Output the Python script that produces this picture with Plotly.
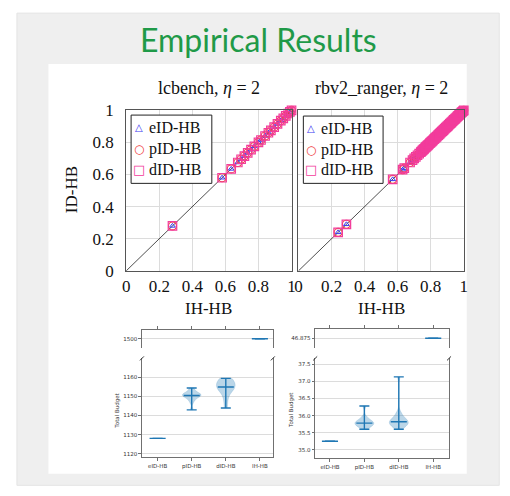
import plotly.graph_objects as go
import numpy as np

W, H = 510, 496
OFF = 8  # page body margin of the html page
def px(x):
    return (x - OFF) / W
def py(y):
    return 1 - (y - OFF) / H

# ---------------- data ----------------
# scatter: IH-HB (x) vs ID-HB (y)
lc_ih_hb = [0.28, 0.58, 0.635, 0.675, 0.695, 0.715, 0.735, 0.755, 0.775, 0.80, 0.815,
            0.84, 0.86, 0.875, 0.895, 0.915, 0.935, 0.95, 0.965, 0.98, 0.99, 1.0]
lc_id_hb = [0.28, 0.58, 0.635, 0.675, 0.695, 0.715, 0.735, 0.755, 0.775, 0.80, 0.815,
            0.84, 0.86, 0.875, 0.895, 0.915, 0.935, 0.95, 0.965, 0.98, 0.99, 1.0]
rb_ih_hb = [0.24, 0.29, 0.57, 0.63, 0.64, 0.675, 0.69, 0.70, 0.71, 0.72, 0.73, 0.74,
            0.745, 0.75, 0.755, 0.76, 0.765, 0.77, 0.775, 0.78, 0.785, 0.79, 0.795,
            0.80, 0.805, 0.81, 0.815, 0.82, 0.825, 0.83, 0.835, 0.84, 0.845, 0.85,
            0.855, 0.86, 0.865, 0.87, 0.875, 0.88, 0.885, 0.89, 0.895, 0.90, 0.905,
            0.91, 0.915, 0.92, 0.925, 0.93, 0.935, 0.94, 0.945, 0.95, 0.955, 0.96,
            0.965, 0.97, 0.975, 0.98, 0.985, 0.99, 0.995, 1.0, 1.005]
rb_id_hb = [0.24, 0.29, 0.57, 0.63, 0.64, 0.675, 0.69, 0.70, 0.71, 0.72, 0.73, 0.74,
            0.745, 0.75, 0.755, 0.76, 0.765, 0.77, 0.775, 0.78, 0.785, 0.79, 0.795,
            0.80, 0.805, 0.81, 0.815, 0.82, 0.825, 0.83, 0.835, 0.84, 0.845, 0.85,
            0.855, 0.86, 0.865, 0.87, 0.875, 0.88, 0.885, 0.89, 0.895, 0.90, 0.905,
            0.91, 0.915, 0.92, 0.925, 0.93, 0.935, 0.94, 0.945, 0.95, 0.955, 0.96,
            0.965, 0.97, 0.975, 0.98, 0.985, 0.99, 0.995, 1.0, 1.005]
diag = [0, 1]
scatter_ticks = [0, 0.2, 0.4, 0.6, 0.8, 1]
scatter_ticktext = ["0", "0.2", "0.4", "0.6", "0.8", "1"]

# violin: total budget samples
methods = ["eID-HB", "pID-HB", "dID-HB", "IH-HB"]
lc_eid = [1128.0]
lc_pid = [1143, 1147, 1148.5, 1149.5, 1150, 1150.5, 1150.5, 1151, 1151, 1151.5, 1152, 1153, 1154.5]
lc_did = [1144, 1148, 1151, 1153, 1154, 1154.5, 1155, 1155, 1156, 1157, 1158, 1158.5, 1159, 1159.5]
lc_ih = [1500.0]
rb_eid = [35.25]
rb_pid = [35.6, 35.65, 35.7, 35.72, 35.75, 35.77, 35.78, 35.8, 35.82, 35.85, 35.9, 35.95, 36.28]
rb_did = [35.6, 35.65, 35.7, 35.73, 35.76, 35.78, 35.8, 35.82, 35.84, 35.86, 35.9, 35.95, 36.0, 36.1, 37.13]
rb_ih = [46.875]

lc_low_ticks = [1120, 1130, 1140, 1150, 1160]
lc_high_ticks = [1500]
rb_low_ticks = [35.0, 35.5, 36.0, 36.5, 37.0, 37.5]
rb_high_ticks = [46.875]

# ---------------- styles ----------------
SERIF = "Liberation Serif"
SANS = "DejaVu Sans"
C_TRI = "#3a3af0"
C_CIR = "#f03c3c"
C_SQ = "#f23c9c"
C0 = "#1f77b4"
GRID = "#dcdcdc"
SPINE = "#707070"

fig = go.Figure()

# ---------------- scatter panels ----------------
for (xs, ys, xa, ya) in [(lc_ih_hb, lc_id_hb, "x", "y"), (rb_ih_hb, rb_id_hb, "x2", "y2")]:
    fig.add_trace(go.Scatter(x=diag, y=diag, mode="lines", line=dict(color="#222", width=0.8),
                             xaxis=xa, yaxis=ya, showlegend=False, hoverinfo="skip"))
    fig.add_trace(go.Scatter(x=xs, y=ys, mode="markers", name="eID-HB", xaxis=xa, yaxis=ya,
                             marker=dict(symbol="triangle-up-open", size=5, color=C_TRI, line=dict(width=1)),
                             cliponaxis=False, showlegend=False))
    fig.add_trace(go.Scatter(x=xs, y=ys, mode="markers", name="pID-HB", xaxis=xa, yaxis=ya,
                             marker=dict(symbol="circle-open", size=8, color=C_CIR, line=dict(width=1.1)),
                             cliponaxis=False, showlegend=False))
    fig.add_trace(go.Scatter(x=xs, y=ys, mode="markers", name="dID-HB", xaxis=xa, yaxis=ya,
                             marker=dict(symbol="square-open", size=8.5, color=C_SQ, line=dict(width=1.2)),
                             cliponaxis=False, showlegend=False))

# ---------------- violin panels ----------------
def add_violins(samples, xa_low, ya_low, xa_high, ya_high, low_range):
    for i, vals in enumerate(samples):
        pos = i + 1
        vals = np.asarray(vals, dtype=float)
        lo, hi = vals.min(), vals.max()
        med = float(np.median(vals))
        if low_range[0] <= med <= low_range[1]:
            xa, ya = xa_low, ya_low
        else:
            xa, ya = xa_high, ya_high
        if hi > lo:
            fig.add_trace(go.Violin(y=vals, x0=pos, width=0.55, spanmode="hard", points=False,
                                    fillcolor="rgba(31,119,180,0.3)",
                                    line=dict(color="rgba(31,119,180,0.3)", width=0.5),
                                    xaxis=xa, yaxis=ya, showlegend=False, hoverinfo="skip"))
        fig.add_trace(go.Scatter(x=[pos], y=[med], mode="markers", xaxis=xa, yaxis=ya,
                                 marker=dict(symbol="line-ew", size=11.5, line=dict(color=C0, width=1.4)),
                                 error_y=dict(type="data", symmetric=False, array=[hi - med],
                                              arrayminus=[med - lo], width=5, thickness=1.4, color=C0),
                                 showlegend=False, hoverinfo="skip"))

add_violins([lc_eid, lc_pid, lc_did, lc_ih], "x3", "y3", "x4", "y4", (1118, 1170))
add_violins([rb_eid, rb_pid, rb_did, rb_ih], "x5", "y5", "x6", "y6", (34.75, 37.67))

# ---------------- axes ----------------
sc_axis = dict(range=[0, 1], tickvals=scatter_ticks, ticktext=scatter_ticktext, showgrid=True,
               gridcolor=GRID, gridwidth=1, zeroline=False, showline=True, linecolor="#555",
               linewidth=1, mirror=True, ticks="", tickfont=dict(family=SERIF, size=17, color="#111"))
sc_ydom = [py(272), py(105)]
fig.update_layout(
    xaxis=dict(sc_axis, domain=[px(124), px(292)], anchor="y"),
    yaxis=dict(sc_axis, domain=sc_ydom, anchor="x", ticklabelstandoff=8),
    xaxis2=dict(sc_axis, domain=[px(299), px(467)], anchor="y2"),
    yaxis2=dict(sc_axis, domain=sc_ydom, anchor="x2", showticklabels=False),
)

vfont = dict(family=SANS, size=5.5, color="#333")
def vx(dom, rng, anchor, top=False):
    d = dict(domain=dom, range=rng, type="linear", tickvals=[1, 2, 3, 4], ticktext=methods,
             showgrid=False, zeroline=False, showline=True, linecolor=SPINE, linewidth=1,
             ticks="outside", ticklen=2.5, tickcolor=SPINE, tickfont=vfont, anchor=anchor)
    if top:
        d.update(side="top", showticklabels=False)
    return d
def vy(dom, rng, tv, tt, anchor):
    return dict(domain=dom, range=rng, tickvals=tv, ticktext=tt, showgrid=True, gridcolor=GRID,
                gridwidth=1, zeroline=False, showline=True, linecolor=SPINE, linewidth=1,
                mirror=True, ticks="outside", ticklen=2.5, tickcolor=SPINE, tickfont=vfont,
                anchor=anchor)

lx_dom = [px(140), px(273)]
rx_dom = [px(316), px(452)]
fig.update_layout(
    xaxis3=vx(lx_dom, [0.54, 4.38], "y3"),
    yaxis3=vy([py(466), py(363)], [1118, 1170], lc_low_ticks, [str(v) for v in lc_low_ticks], "x3"),
    xaxis4=vx(lx_dom, [0.54, 4.38], "y4", top=True),
    yaxis4=vy([py(352), py(333)], [1495, 1505], lc_high_ticks, [str(v) for v in lc_high_ticks], "x4"),
    xaxis5=vx(rx_dom, [0.57, 4.46], "y5"),
    yaxis5=vy([py(467), py(363)], [34.75, 37.67], rb_low_ticks, ["%.1f" % v for v in rb_low_ticks], "x5"),
    xaxis6=vx(rx_dom, [0.57, 4.46], "y6", top=True),
    yaxis6=vy([py(352), py(332)], [46.85, 46.9], rb_high_ticks, ["46.875"], "x6"),
)

# ---------------- background / decorations ----------------
shapes = [
    dict(type="rect", xref="paper", yref="paper", x0=px(13), x1=px(503), y0=py(495), y1=py(4),
         fillcolor="#efefef", line=dict(color="#e4e4e4", width=1), layer="below"),
    dict(type="rect", xref="paper", yref="paper", x0=px(45), x1=px(470), y0=py(483), y1=py(57),
         fillcolor="white", line=dict(width=0), layer="below"),
]
# broken-axis slashes
for xa, ya in [("x3", "y3"), ("x5", "y5")]:
    for xc in (0, 1):
        shapes.append(dict(type="line", xref=xa + " domain", yref=ya + " domain",
                           x0=xc - 0.015, x1=xc + 0.015, y0=1 - 0.02, y1=1 + 0.02,
                           line=dict(color="#333", width=1)))
# legend boxes
legend_boxes = [(129, 211, 110, 181), (304, 385, 111, 181)]
for (x0, x1, y0, y1) in legend_boxes:
    shapes.append(dict(type="rect", xref="paper", yref="paper", x0=px(x0), x1=px(x1), y0=py(y1), y1=py(y0),
                       fillcolor="white", line=dict(color="#222", width=1), layer="above"))

def ann(text, x, y, size, family=SERIF, color="#111", angle=0, xanchor="center"):
    return dict(text=text, x=px(x), y=py(y), xref="paper", yref="paper", showarrow=False,
                textangle=angle, font=dict(family=family, size=size, color=color),
                xanchor=xanchor, yanchor="middle")

annotations = [
    ann("Empirical Results", 258, 31, 32, family="Lato", color="#1f9a48"),
    ann("lcbench, <i>η</i> = 2", 208, 82, 18),
    ann("rbv2_ranger, <i>η</i> = 2", 383, 82, 18),
    ann("ID-HB", 68, 188, 17, angle=-90),
    ann("IH-HB", 208, 311, 17),
    ann("IH-HB", 383, 311, 17),
    ann("Total Budget", 115, 417, 5.5, family=SANS, color="#333", angle=-90),
    ann("Total Budget", 292, 417, 5.5, family=SANS, color="#333", angle=-90),
]
legend_items = [("△", C_TRI, 10, "eID-HB"), ("○", C_CIR, 12, "pID-HB"), ("□", C_SQ, 13, "dID-HB")]
for (gx, tx, rows) in [(137, 145, (123, 145, 167)), (312, 320, (124, 146, 167))]:
    for (glyph, col, gs, label), ry in zip(legend_items, rows):
        annotations.append(ann(glyph, gx, ry, gs, family=SANS, color=col))
        annotations.append(ann(label, tx, ry, 16, xanchor="left"))

fig.update_layout(width=W, height=H, margin=dict(l=0, r=0, t=0, b=0), paper_bgcolor="white",
                  plot_bgcolor="rgba(0,0,0,0)", shapes=shapes, annotations=annotations,
                  showlegend=False, violinmode="overlay")

fig.write_html("out.html")
